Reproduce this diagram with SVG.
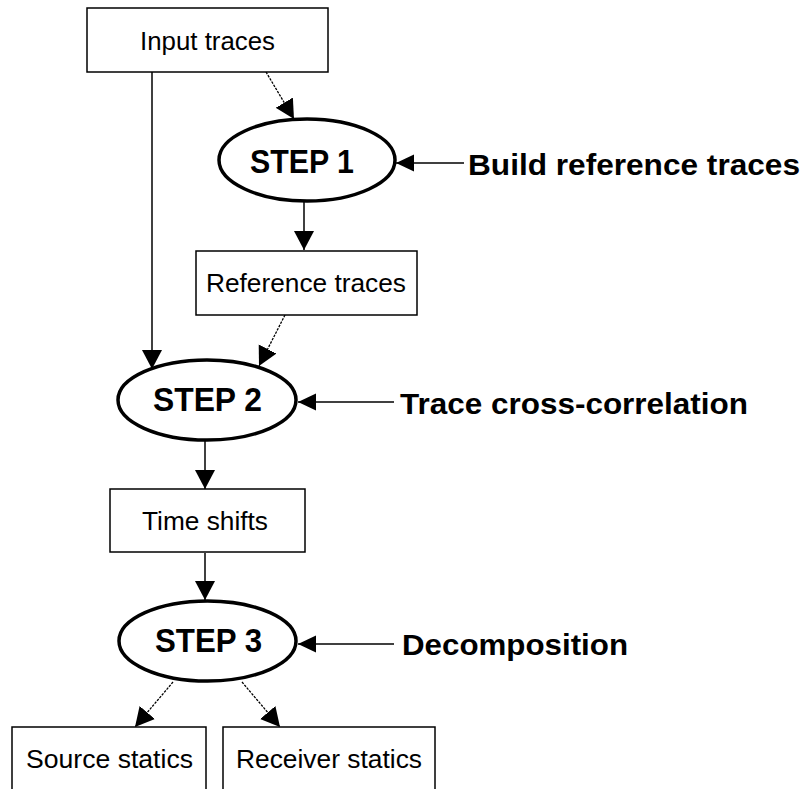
<svg xmlns="http://www.w3.org/2000/svg" width="805" height="789" viewBox="0 0 805 789">
  <style>
    .box { fill: #ffffff; stroke: #000000; stroke-width: 1.5; }
    .step { fill: #ffffff; stroke: #000000; stroke-width: 3.5; }
    .txt { font-family: "Liberation Sans", Arial, sans-serif; font-size: 25px; fill: #000000; }
    .steptxt { font-family: "Liberation Sans", Arial, sans-serif; font-size: 33px; font-weight: bold; fill: #000000; }
    .lbl { font-family: "Liberation Sans", Arial, sans-serif; font-size: 30px; font-weight: bold; fill: #000000; }
    .solid { stroke: #000000; stroke-width: 1.5; fill: none; }
    .dot { stroke: #000000; stroke-width: 1.3; fill: none; stroke-dasharray: 2.5 1.2; }
  </style>
  <defs>
    <marker id="head" markerUnits="userSpaceOnUse" markerWidth="20" markerHeight="22" refX="19" refY="11" orient="auto">
      <path d="M0,1 L19,11 L0,21 Z" fill="#000000"/>
    </marker>
    <marker id="headS" markerUnits="userSpaceOnUse" markerWidth="19" markerHeight="18" refX="18" refY="9" orient="auto">
      <path d="M0,0.5 L18,9 L0,17.5 Z" fill="#000000"/>
    </marker>
  </defs>

  <rect width="805" height="789" fill="#ffffff"/>

  <!-- connectors -->
  <g id="connectors">
    <line class="dot" x1="266" y1="72" x2="294" y2="119" marker-end="url(#head)"/>
    <line class="solid" x1="152" y1="72" x2="152" y2="369" marker-end="url(#head)"/>
    <line class="solid" x1="304" y1="202" x2="304" y2="250" marker-end="url(#head)"/>
    <line class="dot" x1="285" y1="315" x2="259" y2="366" marker-end="url(#head)"/>
    <line class="solid" x1="205" y1="441" x2="205" y2="489" marker-end="url(#head)"/>
    <line class="solid" x1="205" y1="553" x2="205" y2="600" marker-end="url(#head)"/>
    <line class="dot" x1="173" y1="682" x2="135" y2="727" marker-end="url(#head)"/>
    <line class="dot" x1="242" y1="682" x2="280" y2="727" marker-end="url(#head)"/>
    <line class="solid" x1="464" y1="163" x2="396" y2="163" marker-end="url(#headS)"/>
    <line class="solid" x1="394" y1="402" x2="298" y2="402" marker-end="url(#headS)"/>
    <line class="solid" x1="394" y1="644" x2="298" y2="644" marker-end="url(#headS)"/>
  </g>

  <!-- data boxes -->
  <g id="input-traces">
    <rect class="box" x="87" y="8" width="241" height="64"/>
    <text class="txt" x="140" y="50" textLength="135" lengthAdjust="spacingAndGlyphs">Input traces</text>
  </g>
  <g id="reference-traces">
    <rect class="box" x="196" y="251" width="221" height="64"/>
    <text class="txt" x="206" y="292" textLength="200" lengthAdjust="spacingAndGlyphs">Reference traces</text>
  </g>
  <g id="time-shifts">
    <rect class="box" x="110" y="489" width="195" height="63"/>
    <text class="txt" x="142" y="530" textLength="126" lengthAdjust="spacingAndGlyphs">Time shifts</text>
  </g>
  <g id="source-statics">
    <rect class="box" x="12" y="727" width="194" height="75"/>
    <text class="txt" x="26" y="768" textLength="167" lengthAdjust="spacingAndGlyphs">Source statics</text>
  </g>
  <g id="receiver-statics">
    <rect class="box" x="223" y="727" width="212" height="75"/>
    <text class="txt" x="236" y="768" textLength="186" lengthAdjust="spacingAndGlyphs">Receiver statics</text>
  </g>

  <!-- processing steps -->
  <g id="step1">
    <ellipse class="step" cx="307" cy="160" rx="88" ry="41"/>
    <text class="steptxt" x="250" y="173" textLength="104" lengthAdjust="spacingAndGlyphs">STEP 1</text>
  </g>
  <g id="step2">
    <ellipse class="step" cx="207" cy="400" rx="89" ry="40"/>
    <text class="steptxt" x="153" y="411" textLength="109" lengthAdjust="spacingAndGlyphs">STEP 2</text>
  </g>
  <g id="step3">
    <ellipse class="step" cx="207.5" cy="641" rx="88.5" ry="40"/>
    <text class="steptxt" x="155" y="652" textLength="107" lengthAdjust="spacingAndGlyphs">STEP 3</text>
  </g>

  <!-- step descriptions -->
  <g id="label-build">
    <text class="lbl" x="468" y="175" textLength="332" lengthAdjust="spacingAndGlyphs">Build reference traces</text>
  </g>
  <g id="label-cross">
    <text class="lbl" x="400" y="414" textLength="348" lengthAdjust="spacingAndGlyphs">Trace cross-correlation</text>
  </g>
  <g id="label-decomp">
    <text class="lbl" x="402" y="655" textLength="226" lengthAdjust="spacingAndGlyphs">Decomposition</text>
  </g>
</svg>
